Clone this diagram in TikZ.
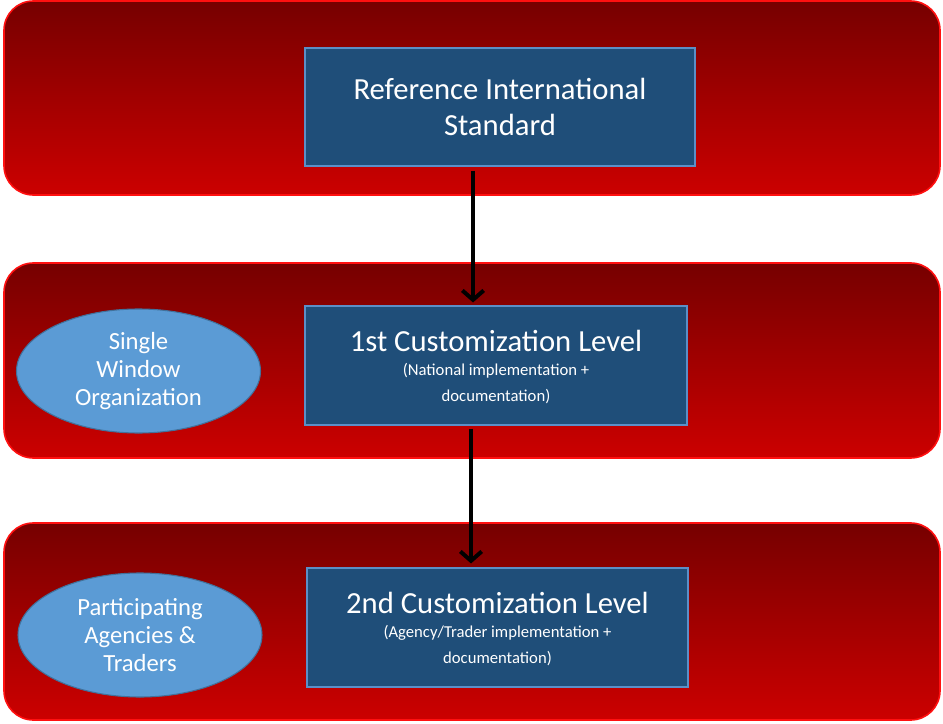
\documentclass[tikz,border=0pt]{standalone}
\usepackage{fontspec}
\setmainfont{Carlito}
\usetikzlibrary{shapes.geometric,arrows.meta,calc}
\definecolor{banddark}{HTML}{760000}
\definecolor{bandlight}{HTML}{CC0000}
\definecolor{bandedge}{HTML}{FF1010}
\definecolor{boxfill}{HTML}{1F4E79}
\definecolor{boxedge}{HTML}{5B8FC7}
\definecolor{ellfill}{HTML}{5B9BD5}
\definecolor{elledge}{HTML}{41719C}
\tikzset{
  band/.style={top color=banddark, bottom color=bandlight, draw=bandedge, line width=1.2pt, rounded corners=22pt},
  levelbox/.style={rectangle, fill=boxfill, draw=boxedge, line width=0.8pt, text=white, align=center, inner sep=0pt},
  orgell/.style={ellipse, fill=ellfill, draw=elledge, line width=0.8pt, text=white, align=center, inner sep=0pt, minimum width=183pt, minimum height=93pt, font=\fontsize{18.5}{21}\selectfont},
  flow/.style={line width=3pt, -{Straight Barb[length=7pt, width=16pt, line width=3pt]}},
  big/.style={font=\fontsize{23}{27}\selectfont},
  small/.style={font=\fontsize{12.5}{19.5}\selectfont},
}
\newcommand{\headtxt}[1]{{\fontsize{23}{27}\selectfont #1}}
\begin{document}
\begin{tikzpicture}[x=0.75pt,y=-0.75pt]
\useasboundingbox (0,0) rectangle (943,724);
\shadedraw[band] (4,1) rectangle (940,195);
\shadedraw[band] (4,263) rectangle (940,458);
\shadedraw[band] (4,523) rectangle (940,720);
\node[levelbox, big, minimum width=292.5pt, minimum height=88.5pt] (b1) at (500,107) {Reference International\\Standard};
\node[levelbox, small, minimum width=286.5pt, minimum height=89.25pt] (b2) at (496,365.5) {};
\node[small, text=white, align=center, inner sep=0pt] (t2) at (496,367.5) {\headtxt{1st Customization Level}\\[-1.5pt](National implementation +\\documentation)};
\node[levelbox, small, minimum width=285.75pt, minimum height=89.25pt] (b3) at (497.5,627.5) {};
\node[small, text=white, align=center, inner sep=0pt] (t3) at (497.5,629.5) {\headtxt{2nd Customization Level}\\[-1.5pt](Agency/Trader implementation +\\documentation)};
\node[orgell] (e1) at (138.5,371) {Single\\Window\\Organization};
\node[orgell] (e2) at (140,635) {Participating\\Agencies \&\\Traders};
\coordinate (a1) at (473,0);
\coordinate (a2) at (471,0);
\draw[flow] ($(b1.south -| a1)+(0,4)$) -- ($(b2.north -| a1)+(0,-3)$);
\draw[flow] ($(b2.south -| a2)+(0,3)$) -- ($(b3.north -| a2)+(0,-4)$);
\end{tikzpicture}
\end{document}
